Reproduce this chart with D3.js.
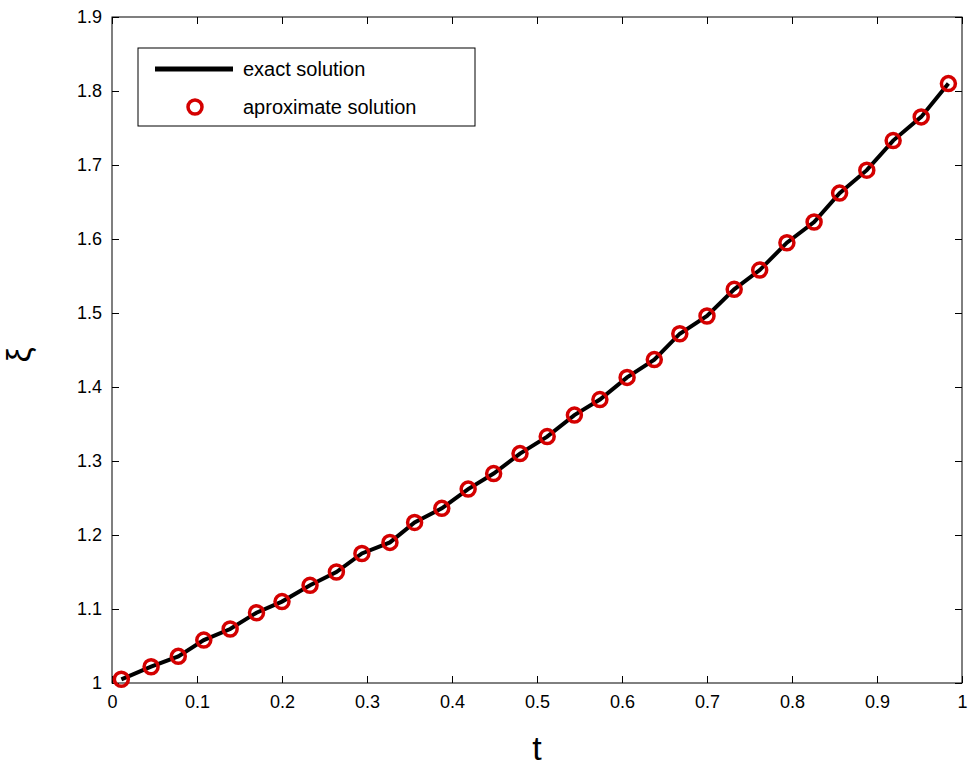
<!DOCTYPE html>
<html><head><meta charset="utf-8">
<script src="https://cdn.jsdelivr.net/npm/d3@7"></script>
<style>body{margin:0;background:#fff}</style></head>
<body><div id="chart"></div>
<script>
var tValues = [0.011,0.046,0.078,0.108,0.139,0.17,0.2,0.233,0.264,0.294,0.327,0.356,0.388,0.419,0.449,0.48,0.512,0.544,0.574,0.606,0.638,0.668,0.7,0.732,0.762,0.794,0.826,0.856,0.888,0.919,0.952,0.984];
var xiValues = [1.005,1.022,1.036,1.058,1.073,1.095,1.11,1.132,1.15,1.175,1.19,1.217,1.236,1.262,1.283,1.31,1.333,1.362,1.383,1.413,1.437,1.472,1.496,1.532,1.558,1.595,1.623,1.662,1.693,1.733,1.765,1.81];
var xTicks = [0,0.1,0.2,0.3,0.4,0.5,0.6,0.7,0.8,0.9,1];
var yTicks = [1,1.1,1.2,1.3,1.4,1.5,1.6,1.7,1.8,1.9];

var margin = {top: 17, right: 13, bottom: 89, left: 112};
var width = 975, height = 772;
var w = width - margin.left - margin.right, h = height - margin.top - margin.bottom;

var svg = d3.select("#chart").append("svg").attr("width", width).attr("height", height)
    .style("font-family", "Arial, Liberation Sans, sans-serif");
var g = svg.append("g").attr("transform", "translate(" + margin.left + "," + margin.top + ")");

var x = d3.scaleLinear().domain([0, 1]).range([0, w]);
var y = d3.scaleLinear().domain([1, 1.9]).range([h, 0]);

g.append("rect").attr("width", w).attr("height", h).attr("fill", "none").attr("stroke", "#000").attr("stroke-width", 1);

var fmt = function(d){ return d3.format("")(+d.toFixed(1)); };
g.append("g").attr("transform", "translate(0," + h + ")")
  .call(d3.axisBottom(x).tickValues(xTicks).tickSize(-7).tickPadding(12).tickFormat(fmt))
  .call(function(a){ a.select(".domain").remove(); a.selectAll("text").attr("font-size", 18); });
g.append("g").call(d3.axisTop(x).tickValues(xTicks).tickSize(-7).tickFormat(""))
  .call(function(a){ a.select(".domain").remove(); });
g.append("g")
  .call(d3.axisLeft(y).tickValues(yTicks).tickSize(-7).tickPadding(10).tickFormat(fmt))
  .call(function(a){ a.select(".domain").remove(); a.selectAll("text").attr("font-size", 18); });
g.append("g").attr("transform", "translate(" + w + ",0)")
  .call(d3.axisRight(y).tickValues(yTicks).tickSize(-7).tickFormat(""))
  .call(function(a){ a.select(".domain").remove(); });

var line = d3.line().x(function(d, i){ return x(tValues[i]); }).y(function(d){ return y(d); });
g.append("path").datum(xiValues).attr("d", line).attr("fill", "none").attr("stroke", "#000").attr("stroke-width", 4);

g.selectAll("circle.pt").data(xiValues).enter().append("circle").attr("class", "pt")
  .attr("cx", function(d, i){ return x(tValues[i]); }).attr("cy", function(d){ return y(d); })
  .attr("r", 7).attr("fill", "none").attr("stroke", "#d40000").attr("stroke-width", 3.5);

// legend
var lg = svg.append("g").attr("transform", "translate(138,48)");
lg.append("rect").attr("width", 337).attr("height", 78).attr("fill", "#fff").attr("stroke", "#000");
lg.append("line").attr("x1", 17).attr("x2", 95).attr("y1", 21).attr("y2", 21).attr("stroke", "#000").attr("stroke-width", 5);
lg.append("text").attr("x", 105).attr("y", 28).attr("font-size", 20).text("exact solution");
lg.append("circle").attr("cx", 57).attr("cy", 59).attr("r", 7).attr("fill", "none").attr("stroke", "#d40000").attr("stroke-width", 3.5);
lg.append("text").attr("x", 105).attr("y", 66).attr("font-size", 20).text("aproximate solution");

svg.append("text").attr("x", 537).attr("y", 760).attr("text-anchor", "middle").attr("font-size", 34).text("t");
svg.append("text").attr("transform", "translate(30,355) rotate(-90)").attr("text-anchor", "middle").attr("font-size", 34).text("ξ");
</script></body></html>
